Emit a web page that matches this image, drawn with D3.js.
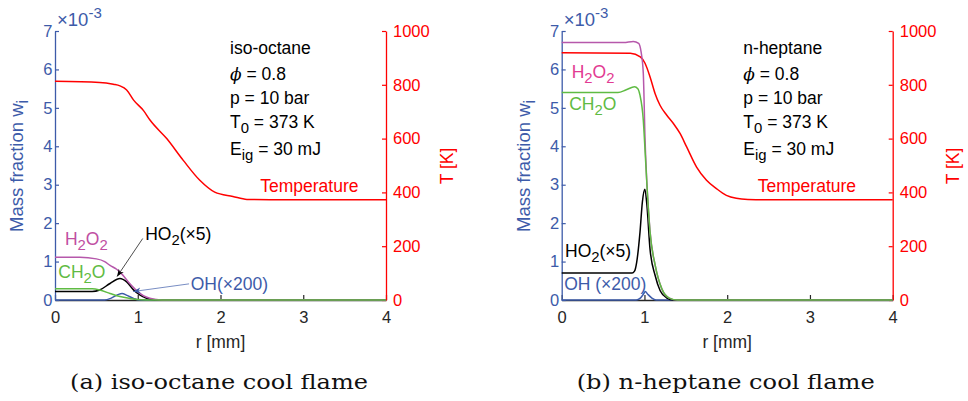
<!DOCTYPE html>
<html>
<head>
<meta charset="utf-8">
<script src="https://cdn.jsdelivr.net/npm/d3@7"></script>
<style>
  body { margin: 0; background: #fff; }
  svg text { font-family: "Liberation Sans", Arial, Helvetica, sans-serif; }
</style>
</head>
<body>
<div id="chart"></div>
<script>
// tick values
var xTicks = [0, 1, 2, 3, 4];
var wTicks = [0, 1, 2, 3, 4, 5, 6, 7];
var tTicks = [0, 200, 400, 600, 800, 1000];

// iso-octane, [r (mm), value]; mass fractions in 1e-3
var isoT = [[0, 813], [0.54, 809], [0.705, 802], [0.785, 796], [0.866, 781], [0.95, 743], [1.07, 704],
            [1.15, 668], [1.35, 600], [1.55, 519], [1.75, 445], [1.93, 401], [2.15, 385], [2.32, 374], [2.6, 373], [4, 373]];
var isoOH = [[0, 0], [0.6, 0], [0.68, 0.05], [0.76, 0.14], [0.81, 0.17], [0.87, 0.12], [0.95, 0.04], [1.02, 0], [4, 0]];
var isoHO2 = [[0, 0.22], [0.45, 0.22], [0.54, 0.26], [0.665, 0.43], [0.785, 0.56], [0.866, 0.47], [0.946, 0.27],
              [1.02, 0.14], [1.1, 0.05], [1.18, 0.01], [1.25, 0], [4, 0]];
var isoH2O2 = [[0, 1.11], [0.3, 1.11], [0.5, 1.07], [0.6, 1.0], [0.665, 0.9], [0.745, 0.8], [0.806, 0.68], [0.906, 0.42],
               [1.01, 0.2], [1.11, 0.07], [1.2, 0.02], [1.3, 0], [4, 0]];
var isoCH2O = [[0, 0.29], [0.45, 0.29], [0.54, 0.26], [0.665, 0.17], [0.785, 0.09], [0.906, 0.04], [1.0, 0.01], [1.1, 0], [4, 0]];

// n-heptane
var hepT = [[0, 919], [0.83, 917], [0.95, 904], [1.007, 880], [1.067, 830], [1.128, 768], [1.188, 724], [1.27, 687],
            [1.35, 656], [1.43, 619], [1.51, 569], [1.63, 494], [1.75, 445], [1.87, 414], [1.99, 389], [2.11, 378],
            [2.25, 374], [2.5, 373], [4, 373]];
var hepOH = [[0, 0], [0.9, 0], [0.95, 0.05], [0.99, 0.16], [1.01, 0.22], [1.04, 0.15], [1.09, 0.05], [1.14, 0], [4, 0]];
var hepHO2 = [[0, 0.70], [0.85, 0.70], [0.88, 0.75], [0.906, 0.98], [0.946, 1.76], [0.975, 2.55], [1.005, 2.88],
              [1.03, 2.46], [1.067, 1.33], [1.13, 0.63], [1.19, 0.24], [1.27, 0.05], [1.35, 0], [4, 0]];
var hepH2O2 = [[0, 6.70], [0.75, 6.70], [0.865, 6.73], [0.93, 6.68], [0.96, 6.45], [0.986, 5.9], [1.007, 4.2],
               [1.035, 2.8], [1.067, 1.8], [1.13, 0.9], [1.21, 0.29], [1.3, 0.05], [1.4, 0], [4, 0]];
var hepCH2O = [[0, 5.40], [0.68, 5.40], [0.78, 5.47], [0.88, 5.55], [0.92, 5.5], [0.946, 5.33], [0.986, 4.68],
               [1.007, 3.9], [1.03, 3.0], [1.067, 1.78], [1.13, 0.9], [1.21, 0.29], [1.3, 0.05], [1.4, 0], [4, 0]];

var blue = "#3d5ba9", red = "#ff0000", purple = "#b658ab", green = "#5fbb43";

var svg = d3.select("#chart").append("svg")
    .attr("width", 968)
    .attr("height", 401);

// arrow heads
var defs = svg.append("defs");
[["arrowBlack", "#000"], ["arrowBlue", blue]].forEach(function(m) {
    defs.append("marker")
        .attr("id", m[0])
        .attr("viewBox", "-10 -5 12 10")
        .attr("markerWidth", 9)
        .attr("markerHeight", 8)
        .attr("markerUnits", "userSpaceOnUse")
        .attr("orient", "auto")
        .append("path")
        .attr("d", "M0,0 L-10,-4 L-7,0 L-10,4 Z")
        .attr("fill", m[1]);
});

var panels = [
    {
        left: 55, fuel: "iso-octane", caption: "(a) iso-octane cool flame",
        T: isoT, OH: isoOH, HO2: isoHO2, H2O2: isoH2O2, CH2O: isoCH2O,
        infoR: 2.115, tempLabel: [2.48, 401], h2o2Text: "#c04ea2",
        h2o2Pos: [0.12, 1.43], ch2oPos: [0.04, 0.57], ho2Pos: [1.09, 1.56], ohPos: [1.64, 0.26], ohText: "OH(×200)",
        arrows: [
            { from: [1.06, 1.6], to: [0.75, 0.61], marker: "arrowBlack", color: "#000" },
            { from: [1.62, 0.42], to: [0.945, 0.22], marker: "arrowBlue", color: blue }
        ]
    },
    {
        left: 561.7, fuel: "n-heptane", caption: "(b) n-heptane cool flame",
        T: hepT, OH: hepOH, HO2: hepHO2, H2O2: hepH2O2, CH2O: hepCH2O,
        infoR: 2.195, tempLabel: [2.37, 401], h2o2Text: "#e23a92",
        h2o2Pos: [0.12, 5.78], ch2oPos: [0.09, 4.94], ho2Pos: [0.04, 1.13], ohPos: [0.03, 0.26], ohText: "OH (×200)",
        arrows: []
    }
];

// text with sub/superscripts; parts = [text, shift]
function richText(sel, parts, size) {
    var shift = 0;
    parts.forEach(function(p) {
        var s = p[1] || 0;
        sel.append("tspan")
            .attr("dy", s - shift)
            .style("font-size", (s ? size * 0.85 : size) + "px")
            .text(p[0]);
        shift = s;
    });
}

panels.forEach(function(p) {
    var x = d3.scaleLinear().domain([0, 4]).range([p.left, p.left + 331]);
    var yW = d3.scaleLinear().domain([0, 7]).range([300, 31]);
    var yT = d3.scaleLinear().domain([0, 1000]).range([300, 31]);
    var right = p.left + 331;
    var fmt = d3.format("d");

    var g = svg.append("g");

    // axes
    var xAxis = d3.axisBottom(x).tickValues(xTicks).tickFormat(fmt).tickSizeInner(-5).tickSizeOuter(0).tickPadding(11);
    var wAxis = d3.axisLeft(yW).tickValues(wTicks).tickFormat(fmt).tickSizeInner(-4).tickSizeOuter(0).tickPadding(2.5);
    var tAxis = d3.axisRight(yT).tickValues(tTicks).tickFormat(fmt).tickSizeInner(-4).tickSizeOuter(0).tickPadding(7);

    function style(ax, col) {
        ax.attr("font-size", null).attr("font-family", null);
        ax.select(".domain").attr("stroke", col).attr("stroke-width", 1.3);
        ax.selectAll(".tick line").attr("stroke", col).attr("stroke-width", 1.2);
        ax.selectAll(".tick text").attr("fill", col).style("font-size", "16.5px");
    }
    style(g.append("g").attr("transform", "translate(0,300)").call(xAxis), "#262626");
    style(g.append("g").attr("transform", "translate(" + p.left + ",0)").call(wAxis), blue);
    style(g.append("g").attr("transform", "translate(" + right + ",0)").call(tAxis), red);

    // axis labels
    var yl = g.append("text")
        .attr("transform", "translate(" + (p.left - 32) + ",166) rotate(-90)")
        .attr("text-anchor", "middle")
        .attr("fill", blue);
    richText(yl, [["Mass fraction w"], ["i", 5]], 18.5);

    g.append("text")
        .attr("transform", "translate(" + (right + 66.5) + ",166) rotate(-90)")
        .attr("text-anchor", "middle")
        .attr("fill", red)
        .style("font-size", "17.5px")
        .text("T [K]");

    g.append("text")
        .attr("x", (p.left + right) / 2)
        .attr("y", 348)
        .attr("text-anchor", "middle")
        .attr("fill", "#262626")
        .style("font-size", "17.5px")
        .text("r [mm]");

    var ex = g.append("text").attr("x", p.left + 2).attr("y", 26).attr("fill", blue);
    ex.append("tspan").style("font-size", "18.5px").text("×10");
    ex.append("tspan").attr("dy", -8).style("font-size", "15px").text("-3");

    // data lines
    var lineT = d3.line().x(d => x(d[0])).y(d => yT(d[1])).curve(d3.curveMonotoneX);
    var lineW = d3.line().x(d => x(d[0])).y(d => yW(d[1])).curve(d3.curveMonotoneX);

    [[p.T, red, lineT], [p.OH, blue, lineW], [p.HO2, "#000", lineW],
     [p.H2O2, purple, lineW], [p.CH2O, green, lineW]].forEach(function(s) {
        g.append("path")
            .datum(s[0])
            .attr("d", s[2])
            .attr("fill", "none")
            .attr("stroke", s[1])
            .attr("stroke-width", 1.5)
            .attr("stroke-linejoin", "round");
    });

    // annotation arrows
    p.arrows.forEach(function(a) {
        g.append("line")
            .attr("x1", x(a.from[0])).attr("y1", yW(a.from[1]))
            .attr("x2", x(a.to[0])).attr("y2", yW(a.to[1]))
            .attr("stroke", a.color)
            .attr("stroke-width", 0.7)
            .attr("marker-end", "url(#" + a.marker + ")");
    });

    // species labels
    function label(pos, col, parts) {
        var t = g.append("text").attr("x", x(pos[0])).attr("y", yW(pos[1])).attr("fill", col);
        richText(t, parts, 17.5);
    }
    label(p.h2o2Pos, p.h2o2Text, [["H"], ["2", 5], ["O"], ["2", 5]]);
    label(p.ch2oPos, green, [["CH"], ["2", 5], ["O"]]);
    label(p.ho2Pos, "#000", [["HO"], ["2", 5], ["(×5)"]]);
    label(p.ohPos, blue, [[p.ohText]]);

    g.append("text")
        .attr("x", x(p.tempLabel[0]))
        .attr("y", yT(p.tempLabel[1]))
        .attr("fill", red)
        .style("font-size", "17.5px")
        .text("Temperature");

    // condition block
    var ix = x(p.infoR);
    var info = [
        { y: 54, parts: [[p.fuel]] },
        { y: 80, parts: [[" = 0.8"]], phi: true },
        { y: 104, parts: [["p = 10 bar"]] },
        { y: 128, parts: [["T"], ["0", 5], [" = 373 K"]] },
        { y: 155, parts: [["E"], ["ig", 5], [" = 30 mJ"]] }
    ];
    info.forEach(function(l) {
        var t = g.append("text").attr("x", ix).attr("y", l.y).attr("fill", "#000");
        if (l.phi) {
            t.append("tspan")
                .style("font-family", "'DejaVu Serif', serif")
                .style("font-style", "italic")
                .style("font-size", "17px")
                .text("ϕ");
        }
        richText(t, l.parts, 17.5);
    });

    // caption
    svg.append("text")
        .attr("x", (p.left + right) / 2 - 1.5)
        .attr("y", 389)
        .attr("text-anchor", "middle")
        .attr("textLength", 298)
        .attr("lengthAdjust", "spacingAndGlyphs")
        .style("font-family", "'DejaVu Serif', 'Liberation Serif', serif")
        .style("font-size", "21px")
        .attr("fill", "#111")
        .text(p.caption);
});
</script>
</body>
</html>
